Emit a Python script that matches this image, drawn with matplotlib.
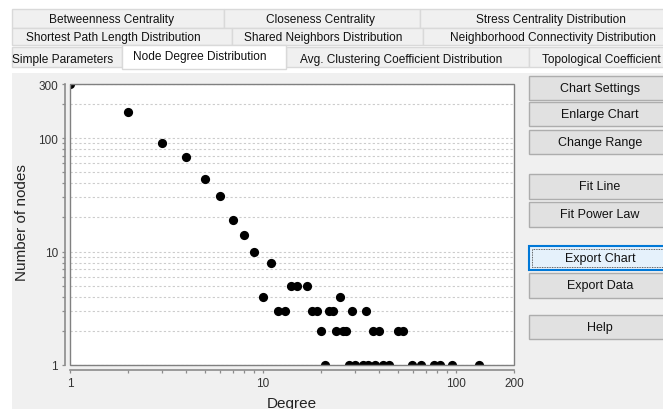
import matplotlib
matplotlib.use("Agg")
import matplotlib.pyplot as plt
from matplotlib.patches import Rectangle
from matplotlib.ticker import FixedLocator, NullFormatter

plt.rcParams.update({"font.family": "Liberation Sans", "font.size": 8.5})

W, H = 663, 410

DEGREE = [1, 2, 3, 4, 5, 6, 7, 8, 9, 10, 11, 12, 13, 14, 15, 17, 18, 19, 20,
          21, 22, 23, 24, 25, 26, 27, 28, 29, 30, 33, 34, 35, 37, 38, 40, 42,
          45, 50, 53, 59, 66, 77, 83, 95, 132]
NODES = [300, 170, 90, 68, 44, 31, 19, 14, 10, 4, 8, 3, 3, 5, 5, 5, 3, 3, 2,
         1, 3, 3, 2, 4, 2, 2, 1, 3, 1, 1, 3, 1, 2, 1, 2, 1,
         1, 2, 2, 1, 1, 1, 1, 1, 1]

X_TICKS = [1, 10, 100, 200]
Y_TICKS = [1, 10, 100, 300]
X_LABEL = "Degree"
Y_LABEL = "Number of nodes"

ROW1_TABS = ["Betweenness Centrality", "Closeness Centrality",
             "Stress Centrality Distribution"]
ROW2_TABS = ["Shortest Path Length Distribution", "Shared Neighbors Distribution",
             "Neighborhood Connectivity Distribution"]
ROW3_TABS = ["Simple Parameters", "Node Degree Distribution",
             "Avg. Clustering Coefficient Distribution",
             "Topological Coefficient Distribution"]
SELECTED = "Node Degree Distribution"
BUTTONS = ["Chart Settings", "Enlarge Chart", "Change Range", "Fit Line",
           "Fit Power Law", "Export Chart", "Export Data", "Help"]
FOCUSED = "Export Chart"

TAB_BG = "#f0f0f0"
TAB_EDGE = "#d9d9d9"
PANEL = "#f0f0f0"
BTN_BG = "#e1e1e1"
BTN_EDGE = "#adadad"

fig = plt.figure(figsize=(W / 100, H / 100), dpi=100)
fig.patch.set_facecolor("white")

# background axes in pixel coordinates for the window chrome
bg = fig.add_axes([0, 0, 1, 1])
bg.set_xlim(0, W)
bg.set_ylim(H, 0)
bg.axis("off")

bg.add_patch(Rectangle((12, 74), W - 12, H - 74, facecolor=PANEL, edgecolor="none"))

# tab rows: (x edges, text centres, y top, y bottom)
rows = [
    (ROW1_TABS, [12, 224, 420, 690], [112, 321, 551], 9.5, 28.5),
    (ROW2_TABS, [12, 232, 423, 690], [113, 323, 553], 28.5, 45.5),
]
for labels, edges, centres, y0, y1 in rows:
    for i, lab in enumerate(labels):
        bg.add_patch(Rectangle((edges[i], y0), edges[i + 1] - edges[i], y1 - y0,
                               facecolor=TAB_BG, edgecolor=TAB_EDGE, lw=1))
        bg.text(centres[i], (y0 + y1) / 2 + 0.5, lab, ha="center", va="center",
                fontsize=8.6, color="#111111")

row3_edges = [12, 122, 286, 529, 700]
row3_text_x = [12, 133, 300, 542]
for i, lab in enumerate(ROW3_TABS):
    sel = lab == SELECTED
    y0 = 45.5 if sel else 47.5
    y1 = 70 if sel else 68
    bg.add_patch(Rectangle((row3_edges[i], y0), row3_edges[i + 1] - row3_edges[i],
                           y1 - y0, facecolor="white" if sel else TAB_BG,
                           edgecolor=TAB_EDGE, lw=1, zorder=3 if sel else 2))
    bg.text(row3_text_x[i], 57 if sel else 60, lab, ha="left", va="center",
            fontsize=8.6, color="#111111", zorder=4)

# buttons on the right
btn_y = [76.5, 102.5, 130.5, 175, 203, 246.5, 274, 315.5]
for lab, y in zip(BUTTONS, btn_y):
    foc = lab == FOCUSED
    bg.add_patch(Rectangle((528.5, y), 145, 24.5,
                           facecolor="#e5f1fb" if foc else BTN_BG,
                           edgecolor="#0078d7" if foc else BTN_EDGE,
                           lw=1.5 if foc else 1))
    if foc:
        bg.add_patch(Rectangle((531.5, y + 3), 139, 18.5, facecolor="none",
                               edgecolor="#333333", lw=0.6, ls=(0, (1, 1))))
    bg.text(600, y + 12.5, lab, ha="center", va="center", fontsize=9,
            color="#111111")

# axis titles
bg.text(22, 223, Y_LABEL, rotation=90, ha="center", va="center",
        fontsize=11, color="#222222")
bg.text(292, 404, X_LABEL, ha="center", va="center", fontsize=11,
        color="#222222")

# ---- the chart ------------------------------------------------------------
L, R, T, B = 70, 514, 85, 366
ax = fig.add_axes([L / W, 1 - B / H, (R - L) / W, (B - T) / H])
ax.set_facecolor("white")
ax.set_xscale("log")
ax.set_yscale("log")
ax.set_xlim(1, 200)
ax.set_ylim(1, 300)

ax.scatter(DEGREE, NODES, s=44, color="black", zorder=3, linewidths=0)

minor = [m * 10 ** k for k in range(3) for m in range(2, 10)]
ax.xaxis.set_major_locator(FixedLocator(X_TICKS))
ax.xaxis.set_minor_locator(FixedLocator([v for v in minor if v < 200]))
ax.yaxis.set_major_locator(FixedLocator(Y_TICKS))
ax.yaxis.set_minor_locator(FixedLocator([v for v in minor if v < 300]))
ax.set_xticklabels([str(v) for v in X_TICKS])
ax.set_yticklabels([str(v) for v in Y_TICKS])
ax.xaxis.set_minor_formatter(NullFormatter())
ax.yaxis.set_minor_formatter(NullFormatter())
ax.tick_params(which="both", length=2.5, width=0.9, color="#8c8c8c",
               labelsize=8.5, labelcolor="#333333", pad=2.5)

ax.yaxis.grid(True, which="both", color="#cccccc", lw=0.8, ls=(0, (2, 2)))
ax.set_axisbelow(True)

for s in ("top", "right"):
    ax.spines[s].set_visible(False)
for s in ("left", "bottom"):
    ax.spines[s].set_position(("outward", 3.6))
    ax.spines[s].set_color("#8c8c8c")
    ax.spines[s].set_linewidth(1.2)
ax.add_patch(Rectangle((0, 0), 1, 1, transform=ax.transAxes, fill=False,
                       edgecolor="#808080", lw=1.0, clip_on=False, zorder=5))

fig.savefig("out.png", dpi=100)
